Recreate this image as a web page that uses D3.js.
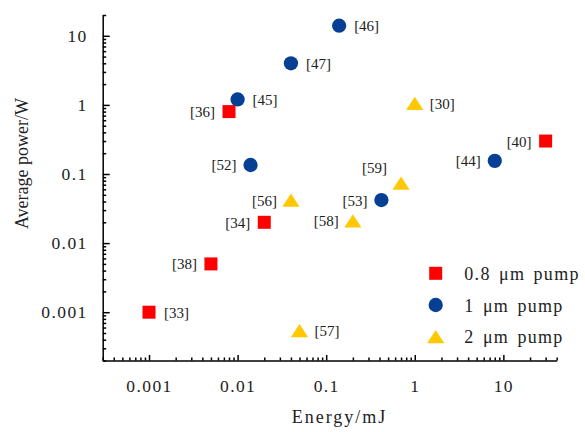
<!DOCTYPE html>
<html>
<head>
<meta charset="utf-8">
<script src="https://cdn.jsdelivr.net/npm/d3@7"></script>
<style>
  body { margin: 0; background: #fff; }
  svg text { font-family: "Liberation Serif", Tinos, "Times New Roman", serif; fill: #222; }
</style>
</head>
<body>
<div id="chart"></div>
<script>
// data (energy in mJ, average power in W)
const pump08Energy = [0.001, 0.005, 0.02, 0.008, 30];
const pump08Power  = [0.001, 0.005, 0.02, 0.8, 0.3];
const pump08Refs   = ["[33]", "[38]", "[34]", "[36]", "[40]"];
const pump08Side   = ["r", "l", "l", "l", "l"];

const pump1Energy = [0.14, 0.04, 0.01, 0.014, 0.42, 8];
const pump1Power  = [14, 4, 1.2, 0.135, 0.042, 0.155];
const pump1Refs   = ["[46]", "[47]", "[45]", "[52]", "[53]", "[44]"];
const pump1Side   = ["r", "r", "r", "l", "l", "l"];

const pump2Energy = [1, 0.04, 0.2, 0.7, 0.05];
const pump2Power  = [1.05, 0.042, 0.021, 0.074, 0.00054];
const pump2Refs   = ["[30]", "[56]", "[58]", "[59]", "[57]"];
const pump2Side   = ["r", "l", "l", "ul", "r"];

const legendNames = ["0.8 \u03bcm pump", "1 \u03bcm pump", "2 \u03bcm pump"];
const xMajor = [0.001, 0.01, 0.1, 1, 10];
const yMajor = [0.001, 0.01, 0.1, 1, 10];

const width = 585, height = 432;
const margin = {top: 15, right: 28.3, bottom: 71.5, left: 102.7};
const serif = '"Liberation Serif", Tinos, "Times New Roman", serif';

const svg = d3.select("#chart")
    .append("svg")
    .attr("width", width)
    .attr("height", height)
    .attr("font-family", serif);

// scales
const x = d3.scaleLog()
    .domain([0.0003, 40])
    .range([margin.left, width - margin.right]);

const y = d3.scaleLog()
    .domain([0.0002, 20])
    .range([height - margin.bottom, margin.top]);

// triangle centred on its box, like the original markers
const triangle = {
    draw: function(ctx, size) {
        const w = 8.6, h = 6.6;
        ctx.moveTo(0, -h);
        ctx.lineTo(w, h);
        ctx.lineTo(-w, h);
        ctx.closePath();
    }
};

const series = [
    {energy: pump08Energy, power: pump08Power, refs: pump08Refs, side: pump08Side,
     color: "#ff0000", symbol: d3.symbolSquare, size: 169},
    {energy: pump1Energy, power: pump1Power, refs: pump1Refs, side: pump1Side,
     color: "#063f94", symbol: d3.symbolCircle, size: 160},
    {energy: pump2Energy, power: pump2Power, refs: pump2Refs, side: pump2Side,
     color: "#ffc800", symbol: triangle, size: 1}
];

// minor ticks come straight from the log scales
const xMinor = x.ticks(60).filter(v => xMajor.indexOf(v) < 0);
const yMinor = y.ticks(60).filter(v => yMajor.indexOf(v) < 0);

function styleLabels(g) {
    g.attr("font-family", serif);
    g.selectAll("text")
        .style("font-family", serif)
        .style("font-size", "17.5px")
        .style("letter-spacing", "1.4px")
        .attr("fill", "#222");
}

// x axis
svg.append("g")
    .attr("transform", "translate(0," + (height - margin.bottom) + ")")
    .call(d3.axisBottom(x).tickValues(xMinor).tickSize(-3).tickSizeOuter(0).tickFormat(""))
    .call(g => g.selectAll("path, line").attr("stroke", "#000").attr("stroke-width", 1.5));

svg.append("g")
    .attr("transform", "translate(0," + (height - margin.bottom) + ")")
    .call(d3.axisBottom(x).tickValues(xMajor).tickSize(-5.5).tickSizeOuter(0)
        .tickPadding(19).tickFormat(d3.format("~g")))
    .call(g => g.select(".domain").remove())
    .call(g => g.selectAll("line").attr("stroke", "#000").attr("stroke-width", 1.5))
    .call(styleLabels);

// y axis
svg.append("g")
    .attr("transform", "translate(" + margin.left + ",0)")
    .call(d3.axisLeft(y).tickValues(yMinor).tickSize(-3.5).tickSizeOuter(0).tickFormat(""))
    .call(g => g.selectAll("path, line").attr("stroke", "#000").attr("stroke-width", 1.5));

svg.append("g")
    .attr("transform", "translate(" + margin.left + ",0)")
    .call(d3.axisLeft(y).tickValues(yMajor).tickSize(-7).tickSizeOuter(0)
        .tickPadding(15).tickFormat(d3.format("~g")))
    .call(g => g.select(".domain").remove())
    .call(g => g.selectAll("line").attr("stroke", "#000").attr("stroke-width", 1.5))
    .call(styleLabels);

// axis titles
svg.append("text")
    .attr("x", 339.5)
    .attr("y", 422.5)
    .attr("text-anchor", "middle")
    .style("font-size", "18px")
    .style("letter-spacing", "2px")
    .text("Energy/mJ");

svg.append("text")
    .attr("transform", "translate(28,163.5)rotate(-90)")
    .attr("text-anchor", "middle")
    .style("font-size", "18px")
    .text("Average power/W");

// points and their reference labels
series.forEach(s => {
    const idx = d3.range(s.energy.length);

    svg.selectAll(null)
        .data(idx)
        .enter()
        .append("path")
        .attr("d", d3.symbol().type(s.symbol).size(s.size))
        .attr("transform", i => "translate(" + x(s.energy[i]) + "," + y(s.power[i]) + ")")
        .attr("fill", s.color);

    svg.selectAll(null)
        .data(idx)
        .enter()
        .append("text")
        .attr("x", i => x(s.energy[i]) + (s.side[i] === "r" ? 15 : -14))
        .attr("y", i => y(s.power[i]) + (s.side[i] === "ul" ? -10 : 5.5))
        .attr("text-anchor", i => s.side[i] === "r" ? "start" : "end")
        .style("font-size", "15px")
        .text(i => s.refs[i]);
});

// legend
const legend = svg.append("g")
    .attr("transform", "translate(435.7,273.3)");

series.forEach((s, i) => {
    legend.append("path")
        .attr("d", d3.symbol().type(s.symbol).size(s.size))
        .attr("transform", "translate(0," + (i * 31.7) + ")")
        .attr("fill", s.color);

    legend.append("text")
        .attr("x", 28.6)
        .attr("y", i * 31.7 + 5)
        .attr("dy", "0.1em")
        .style("font-size", "18px")
        .style("letter-spacing", "1.3px")
        .style("word-spacing", "2.5px")
        .text(legendNames[i]);
});
</script>
</body>
</html>
